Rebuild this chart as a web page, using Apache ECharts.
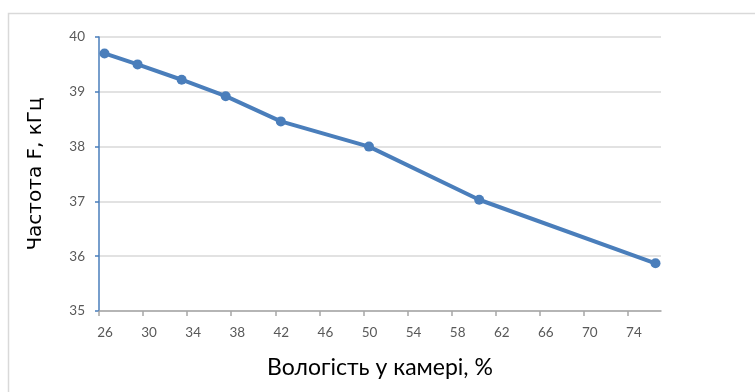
<!DOCTYPE html>
<html>
<head>
<meta charset="utf-8">
<script src="https://cdn.jsdelivr.net/npm/echarts@6/dist/echarts.min.js"></script>
<style>
  html, body { margin: 0; padding: 0; background: #fff; }
  #chart { width: 755px; height: 392px; }
</style>
</head>
<body>
<div id="chart"></div>
<script>
// humidity in the chamber, % and the measured frequency, kHz
const humidity = [26.5, 29.5, 33.5, 37.5, 42.5, 50.5, 60.5, 76.5];
const frequency = [39.7, 39.5, 39.22, 38.92, 38.46, 38.0, 37.03, 35.87];
const xTicks = [26, 30, 34, 38, 42, 46, 50, 54, 58, 62, 66, 70, 74];

const lineColor = '#4a7ebb';
const labelColor = '#595959';

const myChart = echarts.init(document.getElementById('chart'));
myChart.setOption({
  animation: false,
  graphic: [{
    type: 'rect',
    shape: { x: 8.5, y: 13.5, width: 800, height: 400 },
    style: { fill: 'none', stroke: '#d9d9d9', lineWidth: 1.5 },
    silent: true
  }],
  grid: { left: 99, right: 94, top: 37, height: 274 },
  xAxis: {
    type: 'value',
    min: 26,
    max: 77,
    name: 'Вологість у камері, %',
    nameLocation: 'middle',
    nameGap: 45,
    nameTextStyle: { fontFamily: 'Lato', fontSize: 23, color: '#000' },
    axisLine: { lineStyle: { color: '#a6a6a6', width: 1.5 } },
    axisTick: { customValues: xTicks, length: 5, lineStyle: { color: '#a6a6a6', width: 1.5 } },
    axisLabel: {
      customValues: xTicks,
      fontFamily: 'Lato',
      fontSize: 13.5,
      color: labelColor,
      margin: 15,
      padding: [0, 0, 0, 12]
    },
    splitLine: { show: false }
  },
  yAxis: {
    type: 'value',
    min: 35,
    max: 40,
    interval: 1,
    name: 'Частота F, кГц',
    nameLocation: 'middle',
    nameGap: 53,
    nameTextStyle: { fontFamily: 'DejaVu Sans', fontSize: 20, color: '#000' },
    axisLine: { show: true, lineStyle: { color: lineColor, width: 1.5 } },
    axisTick: { show: true, length: 4, lineStyle: { color: lineColor, width: 1.5 } },
    axisLabel: { fontFamily: 'Lato', fontSize: 13.5, color: labelColor, margin: 14 },
    splitLine: { lineStyle: { color: '#d9d9d9', width: 1.5 } }
  },
  series: [{
    type: 'line',
    data: humidity.map((h, i) => [h, frequency[i]]),
    symbol: 'circle',
    symbolSize: 10,
    itemStyle: { color: lineColor },
    lineStyle: { color: lineColor, width: 4 }
  }]
});
</script>
</body>
</html>
